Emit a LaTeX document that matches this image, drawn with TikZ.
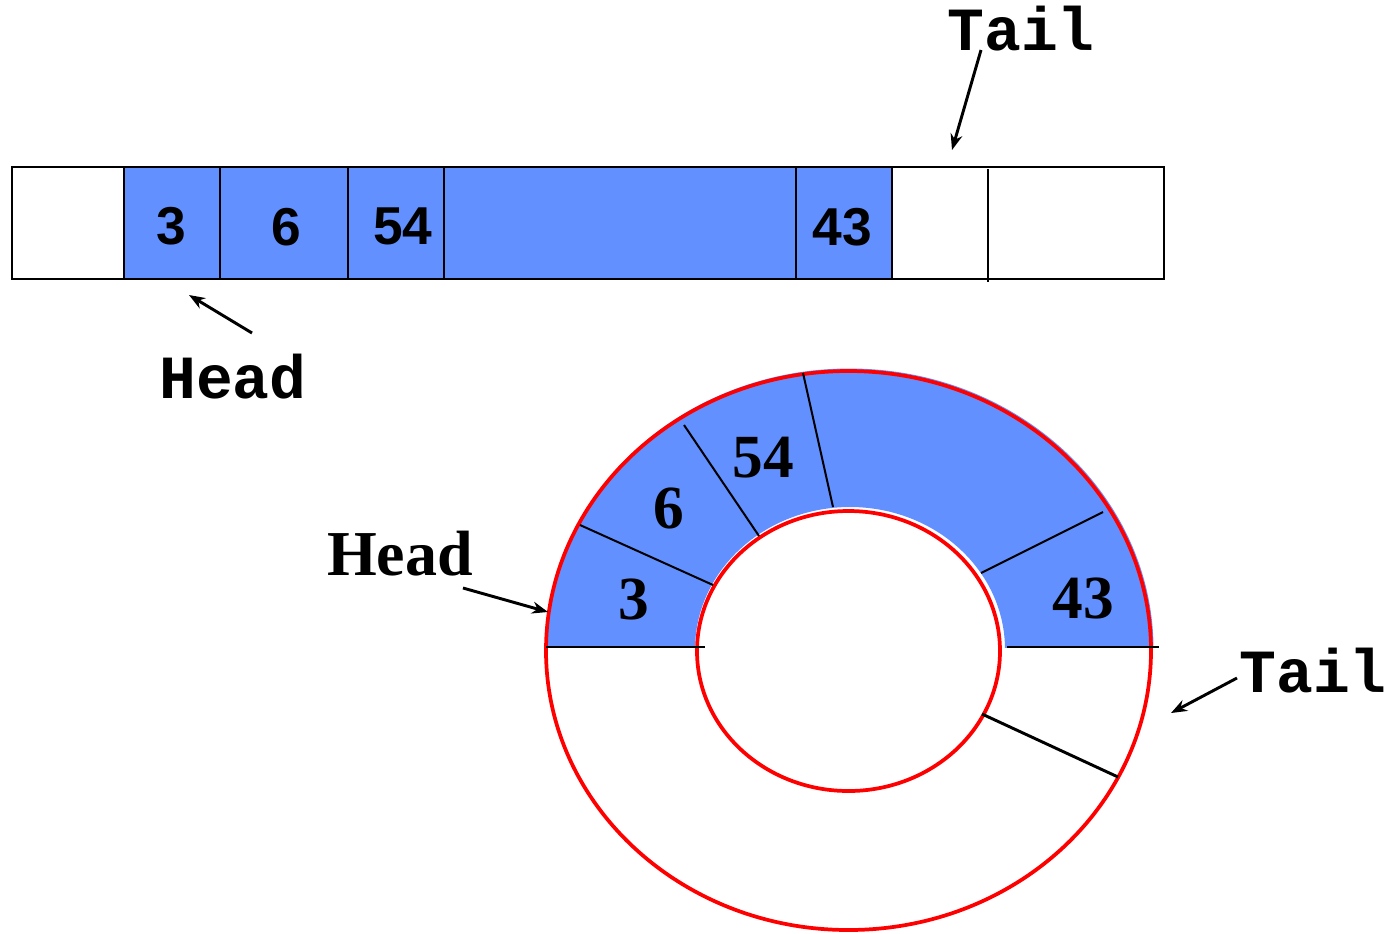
\documentclass[tikz,border=0pt]{standalone}
\usepackage{fontspec}
\setmainfont{Liberation Serif}
\newfontfamily\arialfont{Liberation Sans}
\newfontfamily\courierfont{Liberation Mono}
\usepackage{tikz}
\usetikzlibrary{positioning,arrows.meta}

\definecolor{slotblue}{RGB}{98,144,255}
\definecolor{ringred}{RGB}{255,0,0}

\tikzset{
  arrdigit/.style={anchor=base,inner sep=0pt,font=\arialfont\bfseries\fontsize{40}{40}\selectfont},
  ringdigit/.style={anchor=base,inner sep=0pt,font=\bfseries\fontsize{46}{46}\selectfont},
  ptrtext/.style={anchor=base,inner sep=0pt,font=\courierfont\bfseries\fontsize{46}{46}\selectfont},
  ringtext/.style={anchor=base,inner sep=0pt,font=\bfseries\fontsize{48}{48}\selectfont},
  ptr/.style={line width=2.2pt,-{Stealth[length=12pt,width=9pt]}},
  slotline/.style={line width=1.8pt},
  spoke/.style={line width=1.5pt}
}

\begin{document}
\begin{tikzpicture}[x=0.75pt,y=0.75pt,yscale=-1,xscale=1]
        \useasboundingbox (0,0) rectangle (1394,933); %set diagram left start at 0, and has height of 933

        %Shape: Rectangle [used slots]
        \fill [slotblue] (124,167) rectangle (892,279) ;
        %Shape: Rectangle [whole array]
        \draw [slotline] (12,167) rectangle (1164,279) ;

        %Straight Lines [slot borders]
        \draw [slotline] (124,167) -- (124,279) ;
        \draw [slotline] (220,167) -- (220,279) ;
        \draw [slotline] (348,167) -- (348,279) ;
        \draw [slotline] (444,167) -- (444,279) ;
        \draw [slotline] (796,167) -- (796,279) ;
        \draw [slotline] (892,167) -- (892,279) ;
        \draw [line width=1.3pt] (988,169) -- (988,282) ;

        % Text Node
        \node [arrdigit] (athree) at (171,244) {3};
        \node [arrdigit] (asix) at (286,245) {6};
        \node [arrdigit] (afiftyfour) at (403,244) {54};
        \node [arrdigit] (afortythree) at (842,245) {43};

        % Text Node
        \node [ptrtext] (tailtop) at (1021,50) {Tail};
        \node [ptrtext] (headtop) at (233,398) {Head};

        \coordinate (tailtopfrom) at (981,50) ;
        \coordinate (tailtopto) at (952,150) ;
        \coordinate (headtopfrom) at (252,333) ;
        \coordinate (headtopto) at (189,295) ;
        \draw [ptr] (tailtopfrom) -- (tailtopto) ;
        \draw [ptr] (headtopfrom) -- (headtopto) ;

        %Shape: Ring [used half]
        \begin{scope}
        \clip (500,340) rectangle (1200,647) ;
        \fill [slotblue,even odd rule] (849.5,649.5) ellipse (304 and 281) (850,649.5) ellipse (155 and 142.5) ;
        \end{scope}

        %Shape: Ellipse [outer and inner]
        \draw [ringred,line width=2.8pt] (848.5,650.5) ellipse (302.5 and 279.5) ;
        \draw [ringred,line width=2.8pt] (848.5,651) ellipse (151.5 and 140) ;

        %Straight Lines [ring slot borders]
        \draw [spoke] (546,647) -- (705,647) ;
        \draw [spoke] (1007,647) -- (1159,647) ;
        \draw [spoke] (580,525) -- (713,585) ;
        \draw [spoke] (684,425) -- (759,536) ;
        \draw [spoke] (803,373) -- (833,507) ;
        \draw [spoke] (1103,512) -- (981,573) ;
        \draw [line width=2.2pt] (982,714) -- (1118,777) ;

        % Text Node
        \node [ringdigit] (rthree) at (634,619) {3};
        \node [ringdigit] (rsix) at (669,528) {6};
        \node [ringdigit] (rfiftyfour) at (763,477) {54};
        \node [ringdigit] (rfortythree) at (1083,618) {43};

        % Text Node
        \node [ringtext] (headring) at (400,575) {Head};
        \node [ptrtext] (tailring) at (1313,692) {Tail};

        \coordinate (headringfrom) at (463,588) ;
        \coordinate (headringto) at (548,612) ;
        \coordinate (tailringfrom) at (1237,678) ;
        \coordinate (tailringto) at (1171,713) ;
        \draw [ptr] (headringfrom) -- (headringto) ;
        \draw [ptr] (tailringfrom) -- (tailringto) ;
\end{tikzpicture}
\end{document}
